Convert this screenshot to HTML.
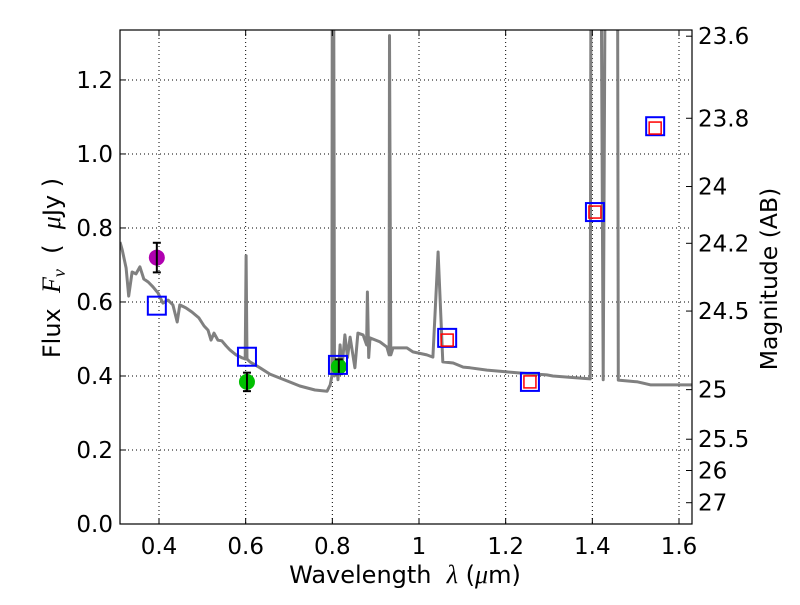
<!DOCTYPE html>
<html><head><meta charset="utf-8"><style>
body{margin:0;background:#fff;}
svg text{font-family:"DejaVu Sans","Liberation Sans",sans-serif;fill:#000;}
</style></head><body>
<svg id="chart" width="800" height="600" xmlns="http://www.w3.org/2000/svg">
<defs><clipPath id="clip"><rect x="120" y="30" width="572" height="494"/></clipPath></defs>
<rect x="0" y="0" width="800" height="600" fill="#fff"/>
<g id="grid"></g>
<g id="spec" clip-path="url(#clip)"></g>
<g id="marks"></g>
<rect x="120" y="30" width="572" height="494" fill="none" stroke="#000" stroke-width="1.2"/>
<g id="axes"></g>
<text x="405" y="583" font-size="24" text-anchor="middle">Wavelength&#160;&#160;<tspan font-style="italic" font-family="Liberation Serif,serif" font-size="26">λ</tspan> (<tspan font-style="italic" font-family="Liberation Serif,serif" font-size="26">μ</tspan>m)</text>
<text transform="translate(60,268) rotate(-90)" font-size="24" text-anchor="middle">Flux&#160;&#160;<tspan font-style="italic" font-family="Liberation Serif,serif" font-size="26">F<tspan font-size="18" dy="5">ν</tspan></tspan><tspan dy="-5">&#160;&#160;(&#160; </tspan><tspan font-style="italic" font-family="Liberation Serif,serif" font-size="26">μ</tspan>Jy )</text>
<text transform="translate(777,279) rotate(-90)" font-size="23.5" text-anchor="middle">Magnitude (AB)</text>
</svg>
<script>
const specWave=[0.310,0.315,0.324,0.330,0.338,0.347,0.356,0.365,0.375,0.386,0.398,0.409,0.421,0.432,0.442,0.448,0.462,0.476,0.492,0.504,0.513,0.520,0.527,0.536,0.545,0.555,0.564,0.578,0.592,0.599,0.601,0.603,0.610,0.633,0.656,0.691,0.725,0.760,0.788,0.795,0.799,0.800,0.803,0.805,0.810,0.813,0.818,0.822,0.829,0.835,0.841,0.852,0.859,0.871,0.879,0.881,0.884,0.887,0.910,0.926,0.931,0.932,0.935,0.940,0.956,0.972,0.986,1.018,1.032,1.044,1.055,1.079,1.102,1.118,1.157,1.203,1.233,1.295,1.309,1.395,1.397,1.420,1.425,1.430,1.458,1.460,1.505,1.535,1.630];
const specFlux=[0.762,0.741,0.692,0.616,0.681,0.676,0.695,0.662,0.654,0.641,0.624,0.597,0.605,0.592,0.546,0.592,0.584,0.573,0.557,0.535,0.524,0.497,0.516,0.497,0.495,0.481,0.470,0.457,0.449,0.446,0.725,0.446,0.438,0.422,0.405,0.389,0.373,0.362,0.359,0.376,0.40,1.6,1.6,0.40,0.43,0.39,0.484,0.42,0.511,0.45,0.505,0.422,0.516,0.511,0.484,0.627,0.45,0.503,0.492,0.478,0.457,1.32,0.457,0.476,0.476,0.476,0.465,0.457,0.451,0.735,0.438,0.435,0.424,0.422,0.416,0.411,0.408,0.403,0.400,0.392,1.6,1.6,0.39,1.6,1.6,0.389,0.384,0.376,0.376];
const obsWave=[0.395,0.603,0.815];
const obsFlux=[0.72,0.384,0.425];
const obsErr=[0.04,0.025,0.02];
const obsColor=['#b000b0','#00c000','#00c000'];
const modelWave=[0.395,0.603,0.813,1.065,1.256,1.406,1.545];
const modelFlux=[0.59,0.452,0.43,0.503,0.384,0.843,1.075];
const synthWave=[1.065,1.256,1.406,1.545];
const synthFlux=[0.497,0.384,0.843,1.07];
const xTicks=[0.4,0.6,0.8,1.0,1.2,1.4,1.6];
const xTickLabels=['0.4','0.6','0.8','1','1.2','1.4','1.6'];
const yTicks=[0,0.2,0.4,0.6,0.8,1.0,1.2];
const yTickLabels=['0.0','0.2','0.4','0.6','0.8','1.0','1.2'];
const magTicks=[23.6,23.8,24,24.2,24.5,25,25.5,26,27];
const magLabels=['23.6','23.8','24','24.2','24.5','25','25.5','26','27'];

const X0=120,X1=692,Y0=524,Y1=30,xmin=0.31,xmax=1.63,ymin=0,ymax=1.335;
const sx=v=>X0+(v-xmin)/(xmax-xmin)*(X1-X0);
const sy=v=>Y0-(v-ymin)/(ymax-ymin)*(Y0-Y1);
const NS='http://www.w3.org/2000/svg';
function mk(tag,attrs,parent){const e=document.createElementNS(NS,tag);for(const k in attrs)e.setAttribute(k,attrs[k]);parent.appendChild(e);return e;}
const grid=document.getElementById('grid'),axes=document.getElementById('axes'),spec=document.getElementById('spec'),marks=document.getElementById('marks');

xTicks.forEach((v,i)=>{const x=sx(v);
 const g=mk('line',{x1:x,x2:x,y1:Y1,y2:Y0,stroke:'#000','stroke-width':1,'stroke-dasharray':'1,3'},grid);
 
 
 mk('line',{x1:x,x2:x,y1:Y0,y2:Y0-6,stroke:'#000'},axes);
 mk('line',{x1:x,x2:x,y1:Y1,y2:Y1+6,stroke:'#000'},axes);
 const t=mk('text',{x:x,y:Y0+30,'font-size':23,'text-anchor':'middle'},axes);t.textContent=xTickLabels[i];
 
 
});
yTicks.forEach((v,i)=>{const y=sy(v);
 const g=mk('line',{x1:X0,x2:X1,y1:y,y2:y,stroke:'#000','stroke-width':1,'stroke-dasharray':'1,3'},grid);
 
 
 mk('line',{x1:X0,x2:X0+6,y1:y,y2:y,stroke:'#000'},axes);
 const t=mk('text',{x:X0-7,y:y+8,'font-size':23,'text-anchor':'end'},axes);t.textContent=yTickLabels[i];
 
 
});
magTicks.forEach((m,i)=>{const y=sy(Math.pow(10,(23.9-m)/2.5));
 mk('line',{x1:X1,x2:X1-6,y1:y,y2:y,stroke:'#000'},axes);
 const t=mk('text',{x:X1+6,y:y+8,'font-size':23},axes);t.textContent=magLabels[i];
 
 
});
let d='';specWave.forEach((w,i)=>{d+=(i?'L':'M')+sx(w).toFixed(1)+','+sy(specFlux[i]).toFixed(1);});
const p=mk('path',{d:d,fill:'none',stroke:'#808080','stroke-width':3,'stroke-linejoin':'round'},spec);



obsWave.forEach((w,i)=>{const x=sx(w),y=sy(obsFlux[i]);
 const c=mk('circle',{cx:x,cy:y,r:8,fill:obsColor[i]},marks);
 
 
 const y1=sy(obsFlux[i]+obsErr[i]),y2=sy(obsFlux[i]-obsErr[i]);
 mk('line',{x1:x,x2:x,y1:y1,y2:y2,stroke:'#000','stroke-width':2},marks);
 mk('line',{x1:x-4,x2:x+4,y1:y1,y2:y1,stroke:'#000','stroke-width':2},marks);
 mk('line',{x1:x-4,x2:x+4,y1:y2,y2:y2,stroke:'#000','stroke-width':2},marks);
});
modelWave.forEach((w,i)=>{
 const r=mk('rect',{x:sx(w)-9,y:sy(modelFlux[i])-9,width:18,height:18,fill:'none',stroke:'#0000ff','stroke-width':2},marks);
 
 
});
synthWave.forEach((w,i)=>{
 const r=mk('rect',{x:sx(w)-6,y:sy(synthFlux[i])-6,width:12,height:12,fill:'none',stroke:'#ff0000','stroke-width':1.5},marks);
 
 
});
</script>
</body></html>
